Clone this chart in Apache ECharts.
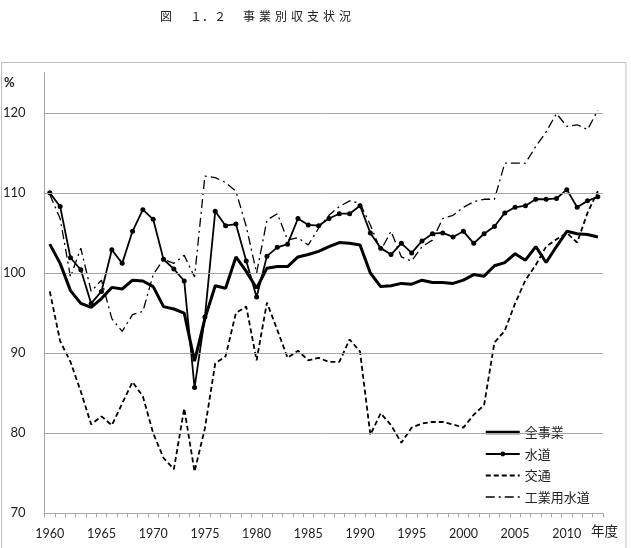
<!DOCTYPE html>
<html>
<head>
<meta charset="utf-8">
<script src="https://cdn.jsdelivr.net/npm/echarts@6/dist/echarts.min.js"></script>
<style>
    html, body { margin: 0; padding: 0; background: #fff; }
    #main { width: 631px; height: 548px; }
</style>
</head>
<body>
<div id="main"></div>
<script>
// 年度 1960 - 2013
var years = [];
for (var y = 1960; y <= 2013; y++) {
    years.push(String(y));
}

// 全事業
var allData = [
    103.6, 101.2, 97.8, 96.2, 95.7, 96.8, 98.2, 98.0, 99.1, 99.0,
    98.3, 95.8, 95.5, 95.0, 89.0, 94.3, 98.4, 98.1, 102.0, 100.2,
    98.1, 100.6, 100.8, 100.8, 102.0, 102.3, 102.7, 103.3, 103.8, 103.7,
    103.5, 100.0, 98.3, 98.4, 98.7, 98.6, 99.1, 98.8, 98.8, 98.7,
    99.1, 99.8, 99.6, 100.9, 101.3, 102.4, 101.6, 103.3, 101.3, 103.3,
    105.2, 104.9, 104.8, 104.5
];
// 水道
var waterData = [
    110.0, 108.3, 101.9, 100.4, 96.2, 97.7, 102.9, 101.2, 105.2, 107.9,
    106.7, 101.7, 100.5, 99.0, 85.7, 94.5, 107.7, 105.9, 106.1, 101.5,
    97.0, 102.1, 103.2, 103.6, 106.8, 106.0, 105.9, 106.8, 107.4, 107.4,
    108.4, 105.0, 103.1, 102.3, 103.7, 102.5, 104.0, 104.9, 105.0, 104.5,
    105.2, 103.7, 104.9, 105.8, 107.5, 108.2, 108.4, 109.2, 109.2, 109.3,
    110.4, 108.2, 109.0, 109.5
];
// 交通
var transData = [
    97.7, 91.5, 88.9, 85.2, 81.1, 82.1, 81.0, 83.7, 86.4, 84.6,
    80.0, 76.9, 75.5, 83.1, 75.2, 80.6, 88.7, 89.6, 95.0, 95.8,
    89.1, 96.3, 92.9, 89.4, 90.3, 89.1, 89.4, 88.9, 88.9, 91.7,
    90.2, 79.8, 82.5, 81.0, 78.8, 80.7, 81.2, 81.4, 81.4, 81.1,
    80.7, 82.3, 83.5, 91.3, 92.8, 96.2, 99.1, 101.0, 103.3, 104.2,
    105.0, 103.8, 107.5, 110.2
];
// 工業用水道
var indData = [
    109.8, 106.8, 99.5, 103.1, 97.7, 99.1, 94.3, 92.7, 94.8, 95.2,
    99.8, 101.7, 101.2, 102.2, 99.5, 112.1, 111.9, 111.3, 110.2, 105.8,
    100.0, 106.6, 107.4, 104.1, 104.4, 103.5, 105.6, 107.2, 108.3, 109.0,
    108.7, 106.0, 102.8, 105.2, 102.0, 101.5, 103.3, 104.1, 106.8, 107.2,
    108.2, 108.9, 109.2, 109.2, 113.7, 113.7, 113.7, 115.8, 117.6, 119.9,
    118.3, 118.5, 117.9, 120.3
];

var seriesNames = ['全事業', '水道', '交通', '工業用水道'];
var gridValues = [80, 90, 100, 110, 120];

var cjk = '"Noto Sans CJK JP", sans-serif';
var num = 'Lato, "Noto Sans", sans-serif';

var chart = echarts.init(document.getElementById('main'));
var option = {
    animation: false,
    backgroundColor: '#fff',
    grid: {
        left: 40,
        right: 28,
        top: 72.7,
        bottom: 34.7
    },
    graphic: [
        {
            type: 'rect',
            shape: { x: 1.5, y: 62.5, width: 624.5, height: 500 },
            style: { fill: 'none', stroke: '#bfbfbf', lineWidth: 1 },
            silent: true
        },
        {
            type: 'text',
            left: 160,
            top: 10,
            style: {
                text: '図\u2003\u2002１．２',
                font: '12px ' + cjk,
                fill: '#222'
            }
        },
        {
            type: 'text',
            left: 243,
            top: 10,
            style: {
                text: '事\u2004業\u2004別\u2004収\u2004支\u2004状\u2004況',
                font: '12px ' + cjk,
                fill: '#222'
            }
        },
        {
            type: 'text',
            left: 4,
            top: 76,
            style: { text: '%', font: 'bold 13px ' + num, fill: '#222' }
        },
        {
            type: 'text',
            left: 591,
            top: 524,
            style: { text: '年度', font: '13.5px ' + cjk, fill: '#222' }
        }
    ],
    legend: {
        orient: 'vertical',
        left: 479,
        top: 421,
        itemWidth: 34,
        itemHeight: 6,
        itemGap: 8.5,
        textStyle: { fontSize: 13, fontFamily: cjk, color: '#222' },
        data: [
            { name: seriesNames[0], itemStyle: { opacity: 0 }, lineStyle: { width: 3.5 } },
            { name: seriesNames[1], lineStyle: { width: 1.8 } },
            { name: seriesNames[2], itemStyle: { opacity: 0 }, lineStyle: { width: 1.8 } },
            { name: seriesNames[3], itemStyle: { opacity: 0 }, lineStyle: { width: 1.5 } }
        ]
    },
    xAxis: {
        type: 'category',
        data: years,
        boundaryGap: true,
        axisLine: { lineStyle: { color: '#a6a6a6', width: 1 } },
        axisTick: {
            show: true,
            interval: 0,
            length: 4,
            lineStyle: { color: '#a6a6a6' }
        },
        axisLabel: {
            interval: 4,
            margin: 14,
            fontSize: 12.5,
            fontFamily: num,
            color: '#222'
        },
        splitLine: { show: false }
    },
    yAxis: {
        type: 'value',
        min: 70,
        max: 125,
        interval: 10,
        axisLine: { show: true, lineStyle: { color: '#a6a6a6', width: 1 } },
        axisTick: { show: false },
        axisLabel: {
            margin: 19,
            fontSize: 13,
            fontFamily: num,
            color: '#222',
            formatter: function (v) {
                return v > 120 ? '' : String(v);
            }
        },
        splitLine: { show: false }
    },
    series: [
        {
            // 目盛線
            name: 'grid',
            type: 'line',
            data: [],
            z: 1,
            silent: true,
            markLine: {
                silent: true,
                symbol: ['none', 'none'],
                label: { show: false },
                lineStyle: { color: '#a6a6a6', type: 'solid', width: 1 },
                data: gridValues.map(function (v) {
                    return { yAxis: v };
                })
            }
        },
        {
            name: seriesNames[0],
            type: 'line',
            data: allData,
            symbol: 'none',
            z: 5,
            lineStyle: { color: '#000', width: 3 },
            itemStyle: { color: '#000' }
        },
        {
            name: seriesNames[1],
            type: 'line',
            data: waterData,
            symbol: 'circle',
            symbolSize: 5,
            z: 4,
            lineStyle: { color: '#000', width: 1.8 },
            itemStyle: { color: '#000' }
        },
        {
            name: seriesNames[2],
            type: 'line',
            data: transData,
            symbol: 'none',
            z: 3,
            lineStyle: { color: '#000', width: 1.8, type: [5, 3] },
            itemStyle: { color: '#000' }
        },
        {
            name: seriesNames[3],
            type: 'line',
            data: indData,
            symbol: 'none',
            z: 3,
            lineStyle: { color: '#000', width: 1.3, type: [9, 4, 2, 4] },
            itemStyle: { color: '#000' }
        }
    ]
};
chart.setOption(option);
</script>
</body>
</html>
